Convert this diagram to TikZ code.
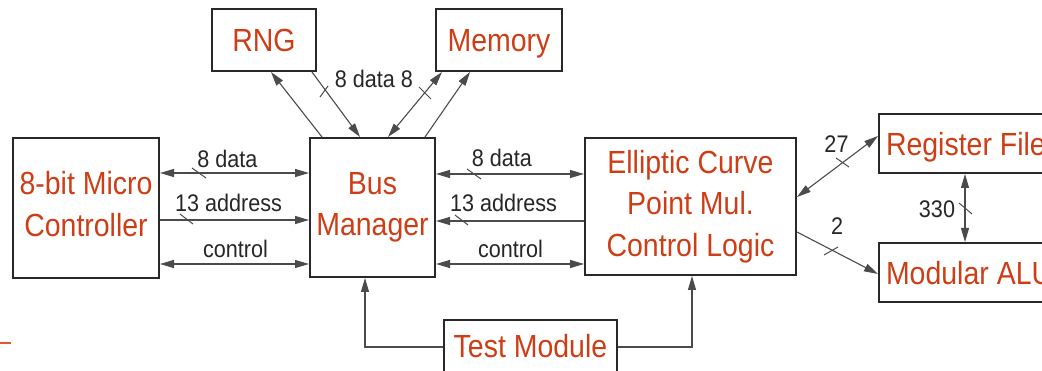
\documentclass[tikz,border=0pt]{standalone}
\usepackage{fontspec}
\setmainfont{Liberation Sans}
\newfontfamily\boxfont[FakeStretch=0.89]{Liberation Sans}
\newfontfamily\lblfont[FakeStretch=0.9]{Liberation Sans}
\usetikzlibrary{arrows.meta,calc}
\definecolor{txtred}{RGB}{205,62,22}
\definecolor{boxline}{RGB}{40,40,40}
\definecolor{conn}{RGB}{75,75,75}
\definecolor{accent}{RGB}{225,90,50}
\begin{document}
\begin{tikzpicture}[x=1pt,y=-1pt,
 blk/.style={draw=boxline,line width=2pt,fill=white,inner sep=0pt,text=txtred,
   font=\boxfont\fontsize{32pt}{41.5pt}\selectfont,align=center},
 one/.style={text height=24pt,text depth=0pt},
 wire/.style={draw=conn,line width=1.1pt},
 tip/.style={-{Triangle[length=14pt,width=8pt]}},
 both/.style={{Triangle[length=14pt,width=8pt]}-{Triangle[length=14pt,width=8pt]}},
 tick/.style={draw=conn,line width=1pt},
 lbl/.style={font=\lblfont\fontsize{24pt}{28pt}\selectfont,text=black!85,inner sep=0pt,anchor=base}]
\useasboundingbox (0,0) rectangle (1042,371);
\clip (0,0) rectangle (1042,371);

% boxes
\node[blk,minimum width=146pt,minimum height=140pt,text depth=8pt] (micro) at (86,208) {8-bit Micro\\Controller};
\node[blk,minimum width=125pt,minimum height=139pt] (bus) at (372.5,207.5) {Bus\\Manager};
\node[blk,minimum width=211pt,minimum height=137pt] (ec) at (690.5,206.5) {Elliptic Curve\\Point Mul.\\Control Logic};
\node[blk,one,minimum width=104pt,minimum height=62pt] (rng) at (264,40) {RNG};
\node[blk,one,minimum width=126pt,minimum height=62pt] (mem) at (499,40) {Memory};
\node[blk,one,anchor=west,minimum height=59pt,inner xsep=7pt] (reg) at (878,143.5) {Register File};
\node[blk,one,anchor=west,minimum height=59pt,inner xsep=7pt] (alu) at (878,272.5) {Modular ALU};
\node[blk,text height=24pt,text depth=16pt,anchor=north,minimum width=173pt,minimum height=68pt] (test) at (530.5,319) {Test Module};

% micro <-> bus
\draw[wire,both] (micro.east |- 0,173) -- (bus.west |- 0,173);
\draw[wire,tip] (micro.east |- 0,220) -- (bus.west |- 0,220);
\draw[wire,both] (micro.east |- 0,264) -- (bus.west |- 0,264);
\draw[tick] (192,168) -- (206,178);
\draw[tick] (180,214) -- (193,224);
\node[lbl] (l1) at (227.5,168) {8 data};
\node[lbl] (l2) at (228.5,212) {13 address};
\node[lbl] (l3) at (235.5,258) {control};

% bus <-> ec
\draw[wire,both] (bus.east |- 0,174) -- (ec.west |- 0,174);
\draw[wire,tip] (ec.west |- 0,221) -- (bus.east |- 0,221);
\draw[wire,both] (bus.east |- 0,264) -- (ec.west |- 0,264);
\draw[tick] (467,169) -- (481,179);
\draw[tick] (455,215) -- (468,225);
\node[lbl] (r1) at (502,167) {8 data};
\node[lbl] (r2) at (503.5,212) {13 address};
\node[lbl] (r3) at (510.5,258) {control};

% bus <-> rng / memory
\draw[wire,tip] (322,0 |- bus.north) -- (271,0 |- rng.south);
\draw[wire,tip] (312,0 |- rng.south) -- (360,0 |- bus.north);
\draw[wire,both] (388,0 |- bus.north) -- (442,0 |- mem.south);
\draw[wire,tip] (425,0 |- bus.north) -- (470,0 |- mem.south);
\draw[tick] (320,97) -- (328,86);
\draw[tick] (419,87) -- (431,99);
\node[lbl] (t1) at (374,88) {8 data 8};

% ec <-> register file / alu
\draw[wire,both] (ec.east |- 0,197) -- (reg.west |- 0,136);
\draw[wire,tip] (ec.east |- 0,232) -- (alu.west |- 0,274);
\draw[wire,both] (965,0 |- reg.south) -- (965,0 |- alu.north);
\draw[tick] (836,158) -- (849,167);
\draw[tick] (824,255) -- (838,247);
\draw[tick] (959,203) -- (972,214);
\node[lbl] (n27) at (836.5,153) {27};
\node[lbl] (n2) at (837,235) {2};
\node[lbl] (n330) at (937,218) {330};

% test module
\coordinate (tl) at ($(test.north west)+(0,28)$);
\coordinate (tr) at ($(test.north east)+(0,28)$);
\draw[wire,tip] (tl) -| (365,0 |- bus.south);
\draw[wire,tip] (tr) -| (692,0 |- ec.south);

% small mark at lower left
\draw[accent,line width=2.5pt] (0,343) -- (11,343);
\end{tikzpicture}
\end{document}
